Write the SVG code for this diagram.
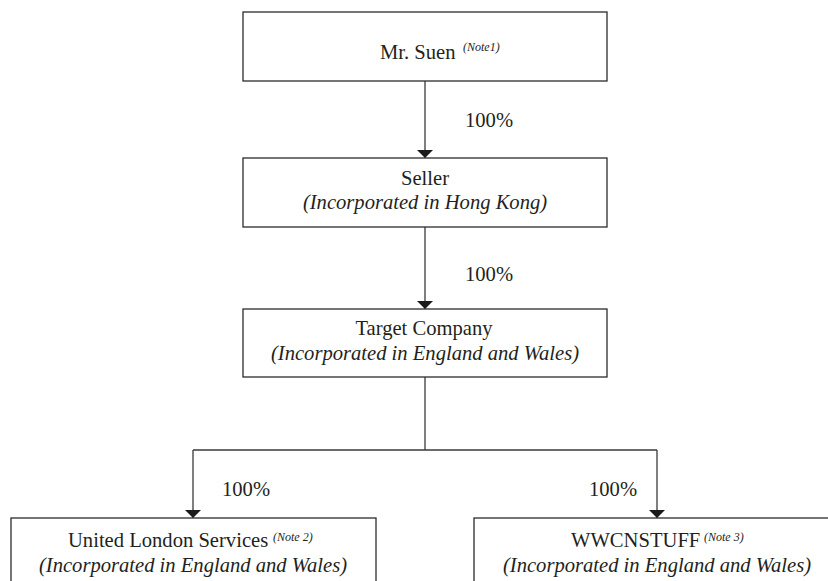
<svg xmlns="http://www.w3.org/2000/svg" width="828" height="581" viewBox="0 0 828 581">
<defs>
<style>
.box{fill:#ffffff;stroke:#2b2b2b;stroke-width:1.3}
.t{font-family:"Liberation Serif","Times New Roman",serif;font-size:20.6px;fill:#231f20}
.i{font-style:italic}
.n{font-family:"Liberation Serif","Times New Roman",serif;font-size:12px;font-style:italic;fill:#231f20}
.c{fill:none;stroke:#3a3a3a;stroke-width:1.3}
.m{text-anchor:middle}
</style>
<marker id="arr" markerUnits="userSpaceOnUse" markerWidth="9" markerHeight="17" refX="8" refY="8" orient="auto" viewBox="0 0 9 17">
<path d="M0,0 L8,8 L0,16 z" fill="#1a1a1a"/>
</marker>
</defs>
<rect width="828" height="581" fill="#ffffff"/>
<g id="connectors">
<line class="c" x1="425" y1="81" x2="425" y2="158" marker-end="url(#arr)"/>
<line class="c" x1="425" y1="227" x2="425" y2="309" marker-end="url(#arr)"/>
<line class="c" x1="425" y1="377" x2="425" y2="450"/>
<line class="c" x1="193" y1="450" x2="657" y2="450"/>
<line class="c" x1="193" y1="450" x2="193" y2="518" marker-end="url(#arr)"/>
<line class="c" x1="657" y1="450" x2="657" y2="518" marker-end="url(#arr)"/>
<text class="t" x="465" y="127">100%</text>
<text class="t" x="465" y="281">100%</text>
<text class="t" x="222" y="496">100%</text>
<text class="t" x="589" y="496">100%</text>
</g>
<g id="mr-suen">
<rect class="box" x="243" y="12" width="364" height="69"/>
<text class="t" x="380" y="59">Mr. Suen</text>
<text class="n" x="463" y="51">(Note1)</text>
</g>
<g id="seller">
<rect class="box" x="243" y="158" width="364" height="69"/>
<text class="t m" x="425" y="185">Seller</text>
<text class="t i m" x="425" y="209">(Incorporated in Hong Kong)</text>
</g>
<g id="target">
<rect class="box" x="243" y="309" width="364" height="68"/>
<text class="t m" x="424" y="335">Target Company</text>
<text class="t i m" x="425" y="360">(Incorporated in England and Wales)</text>
</g>
<g id="uls">
<rect class="box" x="11" y="518" width="365" height="80"/>
<text class="t" x="68" y="547">United London Services</text>
<text class="n" x="273" y="541">(Note 2)</text>
<text class="t i m" x="193" y="572">(Incorporated in England and Wales)</text>
</g>
<g id="wwcnstuff">
<rect class="box" x="474" y="518" width="365" height="80"/>
<text class="t" x="571" y="547">WWCNSTUFF</text>
<text class="n" x="704" y="541">(Note 3)</text>
<text class="t i m" x="657" y="572">(Incorporated in England and Wales)</text>
</g>
</svg>
